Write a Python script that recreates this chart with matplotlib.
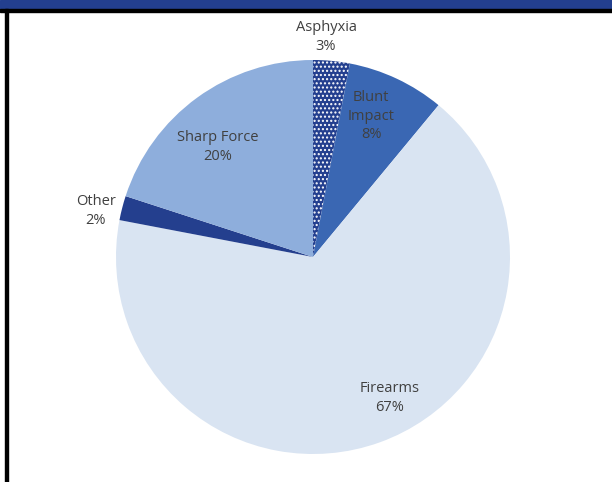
import matplotlib.pyplot as plt
from matplotlib.patches import Rectangle

# Share of cases by cause
causes = ['Asphyxia', 'Blunt\nImpact', 'Firearms', 'Other', 'Sharp Force']
shares = [3, 8, 67, 2, 20]
colors = ['#233f8f', '#3a67b3', '#d9e4f2', '#243f8e', '#8eaedc']
hatches = ['....', None, None, None, None]

# label anchor points in pixel space (x from left, y from top)
label_xy = [(326, 37), (371, 116), (390, 398), (96, 211), (218, 147)]

W, H = 612, 482
fig = plt.figure(figsize=(W / 100, H / 100), dpi=100)
ax = fig.add_axes([0, 0, 1, 1])

wedges, _ = ax.pie(shares, colors=colors, startangle=90, counterclock=False,
                   center=(313, H - 257), radius=197, frame=True,
                   wedgeprops=dict(linewidth=0))
for w, h in zip(wedges, hatches):
    if h:
        w.set_hatch(h)
        w.set_edgecolor('white')
        w.set_linewidth(0)
ax.set_xlim(0, W)
ax.set_ylim(0, H)
ax.set_aspect('equal')
ax.axis('off')

for name, val, (x, y) in zip(causes, shares, label_xy):
    ax.text(x, H - y, f'{name}\n{val}%', ha='center', va='center',
            fontsize=10.5, family='Open Sans', color='#404040',
            linespacing=1.3)

# frame: blue header band, black rule, left border
fig.patches.append(Rectangle((0, 1 - 9 / H), 1, 9 / H, transform=fig.transFigure,
                             color='#233f8f', zorder=5))
fig.patches.append(Rectangle((0, 1 - 12 / H), 1, 3 / H, transform=fig.transFigure,
                             color='black', zorder=5))
fig.patches.append(Rectangle((5 / W, 0), 2.5 / W, 1 - 9 / H, transform=fig.transFigure,
                             color='black', zorder=5))

fig.savefig('out.png', dpi=100)
